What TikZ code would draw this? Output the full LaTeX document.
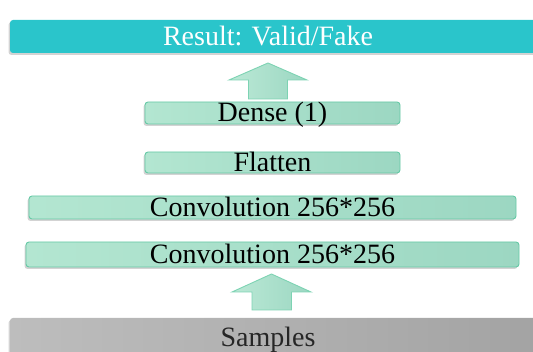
\documentclass[tikz,border=0pt]{standalone}
\usepackage{fontspec}
\setmainfont{Liberation Serif}
\usetikzlibrary{shadows}
\definecolor{teal1}{HTML}{2AC5CB}
\definecolor{gL}{HTML}{B3E6D1}
\definecolor{gR}{HTML}{9CD7C2}
\definecolor{gB}{HTML}{66C9A6}
\definecolor{sL}{HTML}{BDBDBD}
\definecolor{sR}{HTML}{A3A3A3}
\definecolor{aB}{HTML}{7DD3B3}
\tikzset{
  base/.style={rectangle, rounded corners=3pt, inner sep=0pt, text height=18pt, text depth=0pt,
    font=\fontsize{28}{30}\selectfont,
    drop shadow={shadow xshift=-1.5pt, shadow yshift=-2pt, opacity=0.35}},
  layer/.style={base, draw=gB, line width=0.9pt, left color=gL, right color=gR, text=black},
  resbox/.style={base, fill=teal1, text=white},
  sampbox/.style={base, left color=sL, right color=sR, text=black!85},
  blockarrow/.style={draw=aB, line width=0.9pt, left color=gL!90!white, right color=gR}
}
\begin{document}
\begin{tikzpicture}[x=1pt,y=-1pt]
\useasboundingbox (0,0) rectangle (533,352);
\clip (0,0) rectangle (533,352);
\node[resbox, minimum width=530pt, minimum height=33pt] (res) at (275,36.5) {\hspace*{-14pt}Result: Valid/Fake};
\node[layer, minimum width=255pt, minimum height=22pt] (dense) at (272.5,113) {Dense (1)};
\node[layer, minimum width=255pt, minimum height=21pt] (flat) at (272.5,162.5) {Flatten};
\node[layer, minimum width=487pt, minimum height=23pt] (conv1) at (272.5,207.5) {Convolution 256*256};
\node[layer, minimum width=493pt, minimum height=25pt] (conv2) at (272.5,254.5) {Convolution 256*256};
\node[sampbox, minimum width=530pt, minimum height=40pt] (samp) at (275,338) {\hspace*{-14pt}Samples};
% top block arrow
\draw[blockarrow] (268,63) -- (307,80) -- (287.5,80) -- (287.5,99) -- (248.5,99) -- (248.5,80) -- (229,80) -- cycle;
% bottom block arrow
\draw[blockarrow] (271.5,274) -- (311,292) -- (291.5,292) -- (291.5,310) -- (252,310) -- (252,292) -- (232,292) -- cycle;
\end{tikzpicture}
\end{document}
